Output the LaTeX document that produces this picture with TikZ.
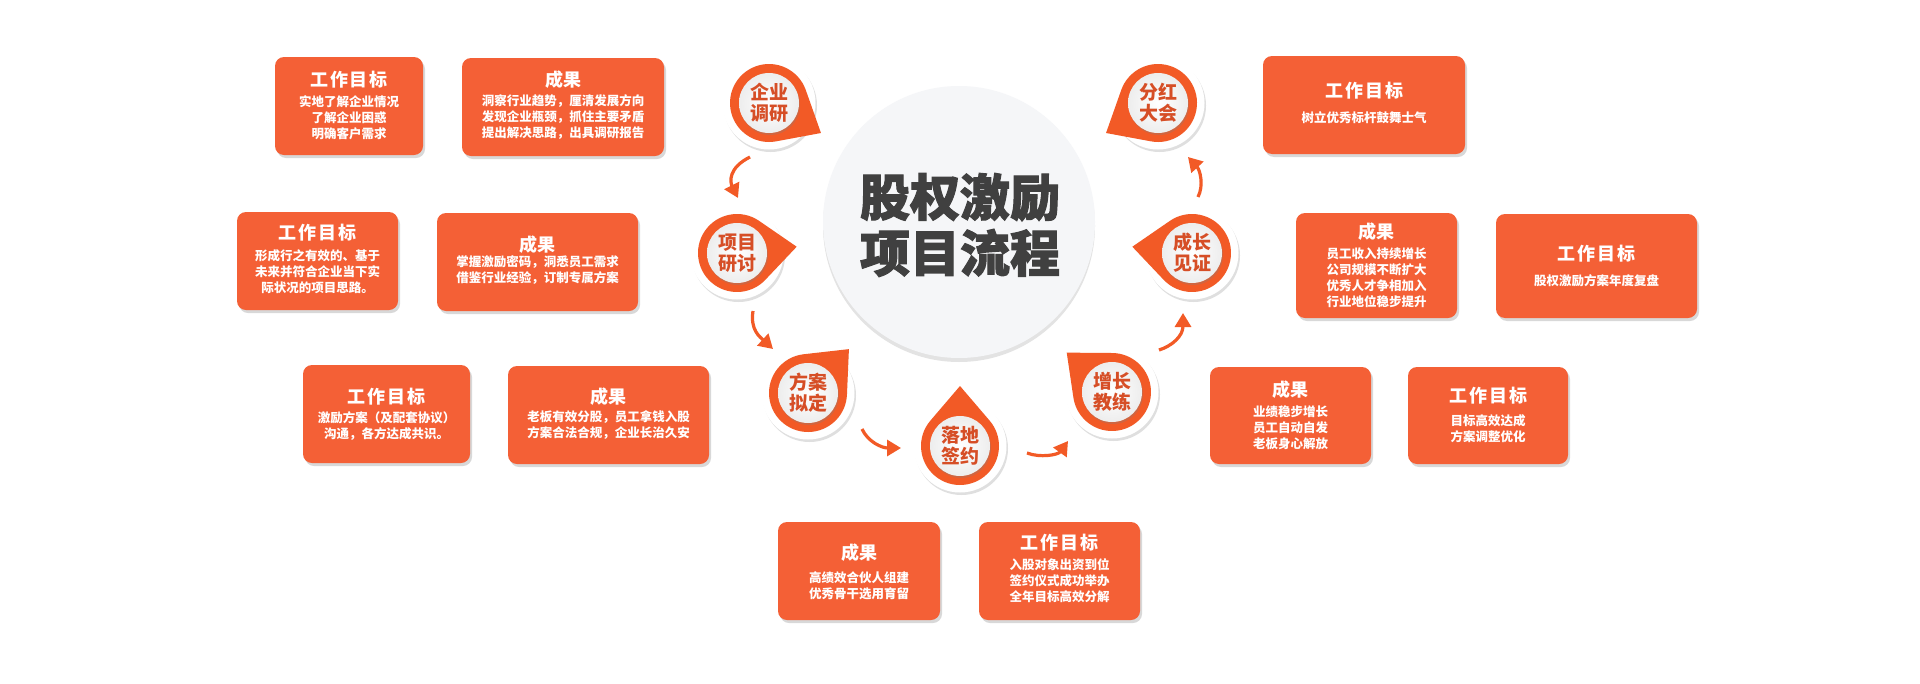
\documentclass[tikz,border=0pt]{standalone}
\usepackage{fontspec}
\newfontfamily\cjk{Noto Sans CJK SC}
\newfontfamily\cjkheavy{Noto Sans CJK SC}[BoldFeatures={FakeBold=2}]
\usetikzlibrary{shadows,arrows.meta}
\definecolor{boxor}{RGB}{244,96,54}
\definecolor{badgeor}{RGB}{242,90,38}
\definecolor{badgetxt}{RGB}{214,78,38}
\definecolor{titlegray}{RGB}{64,64,64}
\definecolor{circfill}{RGB}{245,246,248}
\tikzset{
  box/.style={rectangle, rounded corners=9pt, fill=boxor, inner sep=0pt,
    drop shadow={opacity=0.3, shadow xshift=2pt, shadow yshift=-3pt}},
  ttl/.style={text=white, inner sep=0pt, font=\cjk\bfseries\fontsize{18}{20}\selectfont},
  bdy/.style={text=white, align=center, inner sep=0pt, font=\cjk\bfseries\fontsize{12.5}{16}\selectfont},
  badgetext/.style={text=badgetxt, align=center, inner sep=0pt, font=\cjk\bfseries\fontsize{19}{21}\selectfont},
  flow/.style={draw=badgeor, line width=3.2pt, -{Triangle[length=14pt,width=16pt]}},
}
\newcommand\WG{工\hspace{2pt}作\hspace{2pt}目\hspace{2pt}标}
\newcommand\mkbadge[5]{%
  \node[circle, minimum size=93pt, inner sep=0pt, fill=white,
    drop shadow={opacity=.25, shadow xshift=1.5pt, shadow yshift=-2.5pt}] (#1o) at (#2) {};
  \begin{scope}[shift={(#1o.center)}, rotate=#3]
    \fill[badgeor] (49.5:39pt) arc[start angle=49.5, end angle=310.5, radius=39pt] -- (60pt,0pt) -- cycle;
  \end{scope}
  \node[circle, minimum size=60pt, inner sep=0pt, inner color=white, outer color=black!7,
    drop shadow={opacity=.3, shadow xshift=1pt, shadow yshift=-2pt}] (#1i) at (#2) {};
  \node[badgetext] (#1t) at (#2) {#4\\#5};
}
\begin{document}
\begin{tikzpicture}[x=1pt,y=-1pt]
\fill[white] (0,0) rectangle (1920,683);
\path[use as bounding box] (0,0) rectangle (1920,683);

% centre circle
\node[circle, minimum size=272pt, inner sep=0pt, fill=circfill,
  drop shadow={opacity=.22, shadow xshift=0pt, shadow yshift=-4pt}] (hub) at (959,222) {};
\node[text=titlegray, align=center, inner sep=0pt,
  font=\cjkheavy\bfseries\fontsize{50}{56}\selectfont] (title) at (960,225) {股权激励\\项目流程};

% badges
\mkbadge{qy}{769,103}{-30}{企业}{调研}
\mkbadge{xm}{737,253}{6}{项目}{研讨}
\mkbadge{fa}{808,393}{47}{方案}{拟定}
\mkbadge{ld}{960,446}{90}{落地}{签约}
\mkbadge{zz}{1112,392}{139}{增长}{教练}
\mkbadge{cz}{1192,253}{174}{成长}{见证}
\mkbadge{fh}{1158,103}{-150}{分红}{大会}

% arrows
\coordinate (a1s) at (750,157); \coordinate (a1e) at (738,198);
\draw[flow] (a1s) .. controls (728,168) and (730,182) .. (a1e);
\coordinate (a2s) at (753,311); \coordinate (a2e) at (773,349);
\draw[flow] (a2s) .. controls (750,330) and (760,337) .. (a2e);
\coordinate (a3s) at (862,429); \coordinate (a3e) at (901,448);
\draw[flow] (a3s) .. controls (868,442) and (882,448) .. (a3e);
\coordinate (a4s) at (1027,453); \coordinate (a4e) at (1068,441);
\draw[flow] (a4s) .. controls (1040,458) and (1058,455) .. (a4e);
\coordinate (a5s) at (1159,350); \coordinate (a5e) at (1183,313);
\draw[flow] (a5s) .. controls (1172,346) and (1183,336) .. (a5e);
\coordinate (a6s) at (1198,197); \coordinate (a6e) at (1188,157);
\draw[flow] (a6s) .. controls (1204,185) and (1200,170) .. (a6e);

% boxes - left
\node[box, minimum width=148pt, minimum height=98pt] (l1) at (349,106) {};
\node[ttl] (l1t) at (349,80) {\WG};
\node[bdy] (l1b) at (349,118) {实地了解企业情况\\了解企业困惑\\明确客户需求};

\node[box, minimum width=202pt, minimum height=98pt] (l1r) at (563,107) {};
\node[ttl] (l1rt) at (563,80) {成果};
\node[bdy] (l1rb) at (563,117) {洞察行业趋势，厘清发展方向\\发现企业瓶颈，抓住主要矛盾\\提出解决思路，出具调研报告};

\node[box, minimum width=161pt, minimum height=98pt] (l2) at (317.5,261) {};
\node[ttl] (l2t) at (317.5,233) {\WG};
\node[bdy] (l2b) at (317.5,271.5) {形成行之有效的、基于\\未来并符合企业当下实\\际状况的项目思路。};

\node[box, minimum width=201pt, minimum height=98pt] (l2r) at (537.5,262) {};
\node[ttl] (l2rt) at (537.5,245) {成果};
\node[bdy] (l2rb) at (537.5,270) {掌握激励密码，洞悉员工需求\\借鉴行业经验，订制专属方案};

\node[box, minimum width=167pt, minimum height=98pt] (l3) at (386.5,414) {};
\node[ttl] (l3t) at (386.5,397) {\WG};
\node[bdy] (l3b) at (386.5,426.5) {激励方案（及配套协议）\\沟通，各方达成共识。};

\node[box, minimum width=201pt, minimum height=98pt] (l3r) at (608.5,415) {};
\node[ttl] (l3rt) at (608.5,397) {成果};
\node[bdy] (l3rb) at (608.5,425) {老板有效分股，员工拿钱入股\\方案合法合规，企业长治久安};

% boxes - bottom
\node[box, minimum width=162pt, minimum height=98pt] (bm1) at (859,571) {};
\node[ttl] (bm1t) at (859,553) {成果};
\node[bdy] (bm1b) at (859,585.5) {高绩效合伙人组建\\优秀骨干选用育留};

\node[box, minimum width=161pt, minimum height=98pt] (bm2) at (1059.5,571) {};
\node[ttl] (bm2t) at (1059.5,543) {\WG};
\node[bdy] (bm2b) at (1059.5,581) {入股对象出资到位\\签约仪式成功举办\\全年目标高效分解};

% boxes - right
\node[box, minimum width=202pt, minimum height=98pt] (r1) at (1364,105) {};
\node[ttl] (r1t) at (1364,91) {\WG};
\node[bdy] (r1b) at (1364,118) {树立优秀标杆鼓舞士气};

\node[box, minimum width=161pt, minimum height=105pt] (r2) at (1376.5,265.5) {};
\node[ttl] (r2t) at (1376.5,232) {成果};
\node[bdy] (r2b) at (1376.5,277.5) {员工收入持续增长\\公司规模不断扩大\\优秀人才争相加入\\行业地位稳步提升};

\node[box, minimum width=201pt, minimum height=104pt] (r2r) at (1596.5,266) {};
\node[ttl] (r2rt) at (1596.5,254) {\WG};
\node[bdy] (r2rb) at (1596.5,281) {股权激励方案年度复盘};

\node[box, minimum width=161pt, minimum height=97pt] (r3) at (1290.5,415.5) {};
\node[ttl] (r3t) at (1290.5,390) {成果};
\node[bdy] (r3b) at (1290.5,427.5) {业绩稳步增长\\员工自动自发\\老板身心解放};

\node[box, minimum width=160pt, minimum height=97pt] (r3r) at (1488,415.5) {};
\node[ttl] (r3rt) at (1488,396) {\WG};
\node[bdy] (r3rb) at (1488,429) {目标高效达成\\方案调整优化};
\end{tikzpicture}
\end{document}
